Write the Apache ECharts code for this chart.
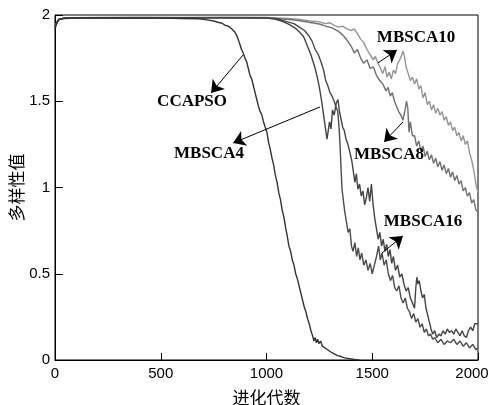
<!DOCTYPE html>
<html>
<head>
<meta charset="utf-8">
<script src="https://cdn.jsdelivr.net/npm/echarts@6/dist/echarts.min.js"></script>
<style>
  html, body { margin: 0; padding: 0; background: #fff; }
  #chart { width: 491px; height: 405px; }
</style>
</head>
<body>
<div id="chart"></div>
<script>
// 横轴刻度 / 纵轴刻度
const xTicks = [0, 500, 1000, 1500, 2000];
const yTicks = [0, 0.5, 1, 1.5, 2];

// 各算法多样性曲线 [代数, 多样性值]
const ccapso = [
  [0, 1.92], [8, 1.95], [15, 1.97], [40, 1.98], [100, 1.982], [200, 1.983], [300, 1.982],
  [400, 1.983], [500, 1.982], [600, 1.98], [680, 1.978], [720, 1.972], [750, 1.965],
  [770, 1.958], [790, 1.952], [805, 1.94], [820, 1.935], [835, 1.92], [848, 1.905],
  [858, 1.885], [866, 1.86], [874, 1.83], [882, 1.80], [890, 1.78], [898, 1.75], [906, 1.73],
  [914, 1.69], [922, 1.65], [930, 1.63], [938, 1.59], [946, 1.55], [954, 1.51], [962, 1.47],
  [970, 1.44], [978, 1.42], [986, 1.38], [994, 1.35], [1002, 1.32], [1010, 1.26],
  [1018, 1.22], [1026, 1.17], [1034, 1.13], [1042, 1.07], [1050, 1.03], [1058, 0.97],
  [1066, 0.93], [1074, 0.87], [1082, 0.83], [1090, 0.77], [1098, 0.72], [1106, 0.66],
  [1114, 0.63], [1122, 0.58], [1130, 0.55], [1138, 0.50], [1146, 0.47], [1154, 0.43],
  [1162, 0.39], [1170, 0.35], [1178, 0.31], [1186, 0.28], [1194, 0.24], [1202, 0.21],
  [1210, 0.17], [1218, 0.14], [1224, 0.11], [1230, 0.13], [1236, 0.10], [1242, 0.12],
  [1248, 0.095], [1256, 0.11], [1264, 0.08], [1272, 0.085], [1282, 0.065], [1294, 0.055],
  [1306, 0.045], [1320, 0.035], [1336, 0.025], [1352, 0.02], [1370, 0.012], [1390, 0.008],
  [1410, 0.004], [1430, 0.001], [1440, 0]
];

const mbsca4 = [
  [0, 1.93], [10, 1.96], [20, 1.975], [50, 1.982], [150, 1.984], [300, 1.985], [500, 1.984],
  [700, 1.985], [900, 1.984], [1000, 1.982], [1040, 1.977], [1070, 1.965], [1100, 1.95],
  [1120, 1.935], [1140, 1.92], [1160, 1.895], [1175, 1.875], [1190, 1.83], [1200, 1.80],
  [1210, 1.77], [1220, 1.73], [1230, 1.69], [1240, 1.64], [1250, 1.58], [1262, 1.49],
  [1270, 1.42], [1278, 1.35], [1286, 1.28], [1292, 1.33], [1298, 1.38], [1305, 1.34],
  [1312, 1.45], [1320, 1.42], [1330, 1.49], [1338, 1.51], [1345, 1.44], [1352, 1.40],
  [1360, 1.35], [1368, 1.33], [1376, 1.28], [1385, 1.25], [1395, 1.20], [1404, 1.15],
  [1412, 1.08], [1418, 1.03], [1425, 1.08], [1432, 0.99], [1440, 1.02], [1448, 0.95],
  [1456, 0.98], [1464, 0.90], [1472, 0.94], [1480, 1.00], [1488, 0.92], [1496, 1.02],
  [1504, 0.90], [1512, 0.82], [1520, 0.76], [1528, 0.70], [1536, 0.74], [1544, 0.66],
  [1552, 0.70], [1560, 0.63], [1568, 0.67], [1576, 0.60], [1584, 0.64], [1592, 0.56],
  [1600, 0.60], [1610, 0.52], [1620, 0.55], [1630, 0.48], [1640, 0.50], [1650, 0.44],
  [1660, 0.40], [1670, 0.42], [1680, 0.36], [1690, 0.33], [1700, 0.30], [1706, 0.42],
  [1711, 0.48], [1716, 0.44], [1722, 0.46], [1730, 0.40], [1738, 0.36], [1746, 0.38],
  [1754, 0.30], [1762, 0.26], [1770, 0.22], [1778, 0.18], [1786, 0.15], [1795, 0.17],
  [1805, 0.13], [1815, 0.15], [1825, 0.14], [1835, 0.17], [1845, 0.15], [1855, 0.18],
  [1865, 0.16], [1875, 0.17], [1885, 0.15], [1895, 0.18], [1905, 0.16], [1915, 0.14],
  [1925, 0.17], [1935, 0.14], [1945, 0.13], [1955, 0.17], [1965, 0.19], [1975, 0.17],
  [1985, 0.21], [1993, 0.22], [2000, 0.21]
];

const mbsca16 = [
  [0, 1.93], [10, 1.96], [20, 1.976], [50, 1.983], [200, 1.985], [400, 1.984], [600, 1.985],
  [800, 1.984], [1000, 1.983], [1050, 1.978], [1100, 1.96], [1130, 1.95], [1160, 1.925],
  [1180, 1.91], [1200, 1.88], [1215, 1.85], [1230, 1.80], [1245, 1.77], [1260, 1.72],
  [1270, 1.68], [1280, 1.62], [1290, 1.59], [1300, 1.55], [1310, 1.53], [1320, 1.50],
  [1328, 1.47], [1337, 1.44], [1343, 1.35], [1348, 1.24], [1352, 1.12], [1357, 0.99],
  [1363, 0.93], [1370, 0.86], [1378, 0.80], [1386, 0.74], [1394, 0.76], [1402, 0.66],
  [1409, 0.63], [1418, 0.68], [1426, 0.60], [1434, 0.65], [1442, 0.58], [1450, 0.62],
  [1460, 0.55], [1470, 0.58], [1480, 0.52], [1490, 0.56], [1500, 0.50], [1510, 0.55],
  [1520, 0.60], [1530, 0.66], [1538, 0.58], [1546, 0.62], [1556, 0.55], [1566, 0.58],
  [1576, 0.50], [1586, 0.46], [1596, 0.49], [1606, 0.42], [1616, 0.40], [1626, 0.43],
  [1636, 0.36], [1646, 0.33], [1656, 0.36], [1666, 0.30], [1676, 0.28], [1686, 0.24],
  [1696, 0.27], [1706, 0.22], [1716, 0.24], [1726, 0.19], [1736, 0.21], [1746, 0.16],
  [1756, 0.18], [1766, 0.14], [1776, 0.15], [1786, 0.12], [1796, 0.13], [1810, 0.10],
  [1825, 0.12], [1840, 0.09], [1855, 0.11], [1870, 0.10], [1885, 0.12], [1900, 0.09],
  [1915, 0.11], [1930, 0.08], [1945, 0.10], [1960, 0.07], [1975, 0.09], [1990, 0.06],
  [2000, 0.07]
];

const mbsca8 = [
  [0, 1.93], [10, 1.96], [20, 1.975], [50, 1.982], [200, 1.984], [400, 1.985], [600, 1.984],
  [800, 1.985], [1000, 1.983], [1100, 1.975], [1150, 1.968], [1200, 1.958], [1250, 1.948],
  [1280, 1.935], [1310, 1.925], [1340, 1.905], [1360, 1.885], [1380, 1.855], [1400, 1.82],
  [1415, 1.78], [1430, 1.80], [1445, 1.75], [1460, 1.72], [1475, 1.74], [1490, 1.69],
  [1505, 1.70], [1520, 1.65], [1535, 1.62], [1550, 1.60], [1565, 1.56], [1575, 1.58],
  [1585, 1.53], [1595, 1.55], [1605, 1.50], [1615, 1.47], [1625, 1.44], [1635, 1.42],
  [1645, 1.39], [1655, 1.45], [1662, 1.50], [1668, 1.46], [1674, 1.32], [1680, 1.38],
  [1690, 1.30], [1700, 1.30], [1710, 1.24], [1720, 1.27], [1730, 1.21], [1740, 1.24],
  [1750, 1.18], [1760, 1.21], [1770, 1.16], [1780, 1.19], [1790, 1.14], [1800, 1.17],
  [1810, 1.12], [1820, 1.15], [1830, 1.10], [1840, 1.13], [1850, 1.08], [1860, 1.11],
  [1870, 1.06], [1880, 1.09], [1890, 1.04], [1900, 1.07], [1910, 1.02], [1920, 1.04],
  [1930, 0.98], [1940, 1.00], [1950, 0.95], [1960, 0.97], [1970, 0.91], [1980, 0.93],
  [1990, 0.87], [2000, 0.86]
];

const mbsca10 = [
  [0, 1.93], [10, 1.962], [20, 1.977], [50, 1.984], [200, 1.986], [400, 1.987], [600, 1.986],
  [800, 1.987], [1000, 1.986], [1100, 1.98], [1150, 1.976], [1200, 1.967], [1250, 1.96],
  [1280, 1.95], [1300, 1.955], [1320, 1.94], [1340, 1.93], [1360, 1.935], [1380, 1.92],
  [1400, 1.91], [1415, 1.92], [1430, 1.89], [1445, 1.86], [1460, 1.84], [1475, 1.80],
  [1490, 1.77], [1505, 1.74], [1515, 1.76], [1527, 1.72], [1540, 1.69], [1550, 1.66],
  [1560, 1.70], [1570, 1.64], [1580, 1.67], [1590, 1.63], [1600, 1.68], [1610, 1.66],
  [1620, 1.72], [1630, 1.74], [1640, 1.77], [1646, 1.79], [1652, 1.76], [1660, 1.70],
  [1670, 1.66], [1680, 1.62], [1690, 1.64], [1700, 1.60], [1710, 1.63], [1720, 1.57],
  [1730, 1.59], [1740, 1.52], [1750, 1.55], [1760, 1.48], [1770, 1.50], [1780, 1.45],
  [1790, 1.48], [1800, 1.43], [1810, 1.46], [1820, 1.42], [1830, 1.44], [1840, 1.39],
  [1850, 1.41], [1860, 1.36], [1870, 1.38], [1880, 1.33], [1890, 1.35], [1900, 1.30],
  [1910, 1.32], [1920, 1.27], [1930, 1.30], [1940, 1.25], [1950, 1.27], [1960, 1.20],
  [1970, 1.16], [1980, 1.10], [1990, 1.02], [2000, 0.97]
];

// 标注: 文字中心 + 箭头(曲线上起点 -> 箭头尖)
const notes = [
  { text: 'CCAPSO',  at: [648, 1.50],  from: [889, 1.768],  to: [738, 1.548] },
  { text: 'MBSCA4',  at: [728, 1.194], from: [1253, 1.467], to: [842, 1.258] },
  { text: 'MBSCA10', at: [1707, 1.867], from: [1527, 1.722], to: [1617, 1.797] },
  { text: 'MBSCA8',  at: [1579, 1.188], from: [1645, 1.38],  to: [1556, 1.264] },
  { text: 'MBSCA16', at: [1740, 0.80],  from: [1546, 0.62],  to: [1645, 0.719] }
];

const chart = echarts.init(document.getElementById('chart'));

function line(name, data, color) {
  return {
    name: name,
    type: 'line',
    data: data,
    symbol: 'none',
    smooth: false,
    lineStyle: { color: color, width: 1.4 },
    z: 3
  };
}

const axisText = { color: '#000', fontFamily: 'Liberation Sans', fontSize: 15 };

chart.setOption({
  backgroundColor: '#fff',
  animation: false,
  grid: {
    left: 55, right: 13, top: 15, bottom: 45,
    containLabel: false, outerBoundsMode: 'none',
    show: true, borderColor: '#000', borderWidth: 1
  },
  xAxis: {
    type: 'value', min: 0, max: 2000, interval: 500,
    name: '进化代数', nameLocation: 'middle', nameGap: 29, nameMoveOverlap: false,
    nameTextStyle: { color: '#000', fontFamily: 'Noto Sans CJK SC', fontSize: 17 },
    axisLine: { lineStyle: { color: '#000', width: 1 } },
    axisTick: { inside: true, length: 7, lineStyle: { color: '#000' } },
    axisLabel: Object.assign({
      margin: 6,
      formatter: v => v === 2000 ? '{e|2000}' : (xTicks.includes(v) ? String(v) : ''),
      rich: { e: { padding: [0, 12, 0, 0], fontFamily: 'Liberation Sans', fontSize: 15, color: '#000' } }
    }, axisText),
    splitLine: { show: false }
  },
  yAxis: {
    type: 'value', min: 0, max: 2, interval: 0.5,
    name: '多样性值', nameLocation: 'middle', nameGap: 30, nameMoveOverlap: false,
    nameTextStyle: { color: '#000', fontFamily: 'Noto Sans CJK SC', fontSize: 17 },
    axisLine: { lineStyle: { color: '#000', width: 1 } },
    axisTick: { inside: true, length: 8, lineStyle: { color: '#000' } },
    axisLabel: Object.assign({ margin: 5, formatter: v => yTicks.includes(v) ? String(v) : '' }, axisText),
    splitLine: { show: false }
  },
  series: [
    line('MBSCA10', mbsca10, '#959595'),
    line('MBSCA8', mbsca8, '#707070'),
    line('MBSCA16', mbsca16, '#4a4a4a'),
    line('MBSCA4', mbsca4, '#444444'),
    line('CCAPSO', ccapso, '#333333'),
    {
      name: 'arrows',
      type: 'line',
      data: [],
      markLine: {
        silent: true,
        symbol: ['none', 'arrow'],
        symbolSize: 12,
        label: { show: false },
        lineStyle: { color: '#000', width: 1, type: 'solid' },
        data: notes.map(n => [{ coord: n.from }, { coord: n.to }])
      }
    }
  ]
});

chart.setOption({
  graphic: notes.map(n => {
    const p = chart.convertToPixel({ gridIndex: 0 }, n.at);
    return {
      type: 'text',
      x: p[0], y: p[1],
      style: {
        text: n.text, fill: '#000',
        font: 'bold 17px "Liberation Serif"',
        align: 'center', verticalAlign: 'middle'
      },
      z: 10
    };
  })
});
</script>
</body>
</html>
